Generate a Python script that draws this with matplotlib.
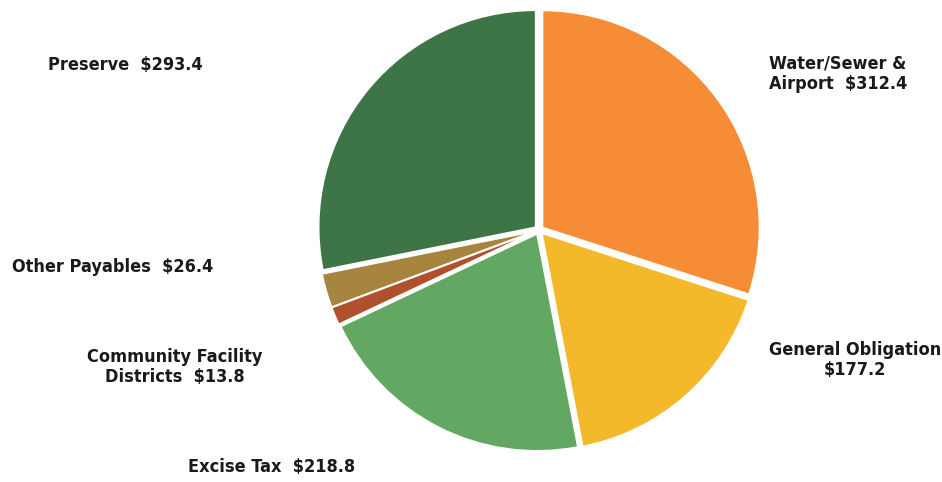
import matplotlib
matplotlib.use('Agg')
import matplotlib.pyplot as plt

# debt outstanding by type ($ millions)
labels = ['Water/Sewer &\nAirport  $312.4', 'General Obligation\n$177.2', 'Excise Tax  $218.8',
          'Community Facility\nDistricts  $13.8', 'Other Payables  $26.4', 'Preserve  $293.4']
values = [312.4, 177.2, 218.8, 13.8, 26.4, 293.4]
colors = ['#F68C35', '#F4B92A', '#62A862', '#B0502C', '#A7853F', '#3D7547']

W, H = 942, 482
fig = plt.figure(figsize=(W / 100, H / 100), dpi=100)
ax = fig.add_axes([0, 0, 1, 1])
ax.pie(values, colors=colors, startangle=90, counterclock=False,
       explode=[0.02] * len(values),
       wedgeprops=dict(edgecolor='white', linewidth=1.2))
# pie centre and radius in pixels
cx, cy, r = 539, 230, 217
ax.set_xlim(-cx / r, (W - cx) / r)
ax.set_ylim(-(H - cy) / r, cy / r)
ax.set_aspect('auto')

font = dict(family='DejaVu Sans', fontstretch='condensed', fontweight='bold',
            fontsize=13, color='#1a1a1a')
# label positions in pixels (x, y from top)
pos = [(838, 74), (855, 360), (272, 467), (175, 367), (113, 267), (125, 65)]
for lab, (x, y) in zip(labels, pos):
    fig.text(x / W, 1 - y / H, lab, ha='center', va='center', linespacing=1.15, **font)

plt.savefig('out.png', dpi=100)
